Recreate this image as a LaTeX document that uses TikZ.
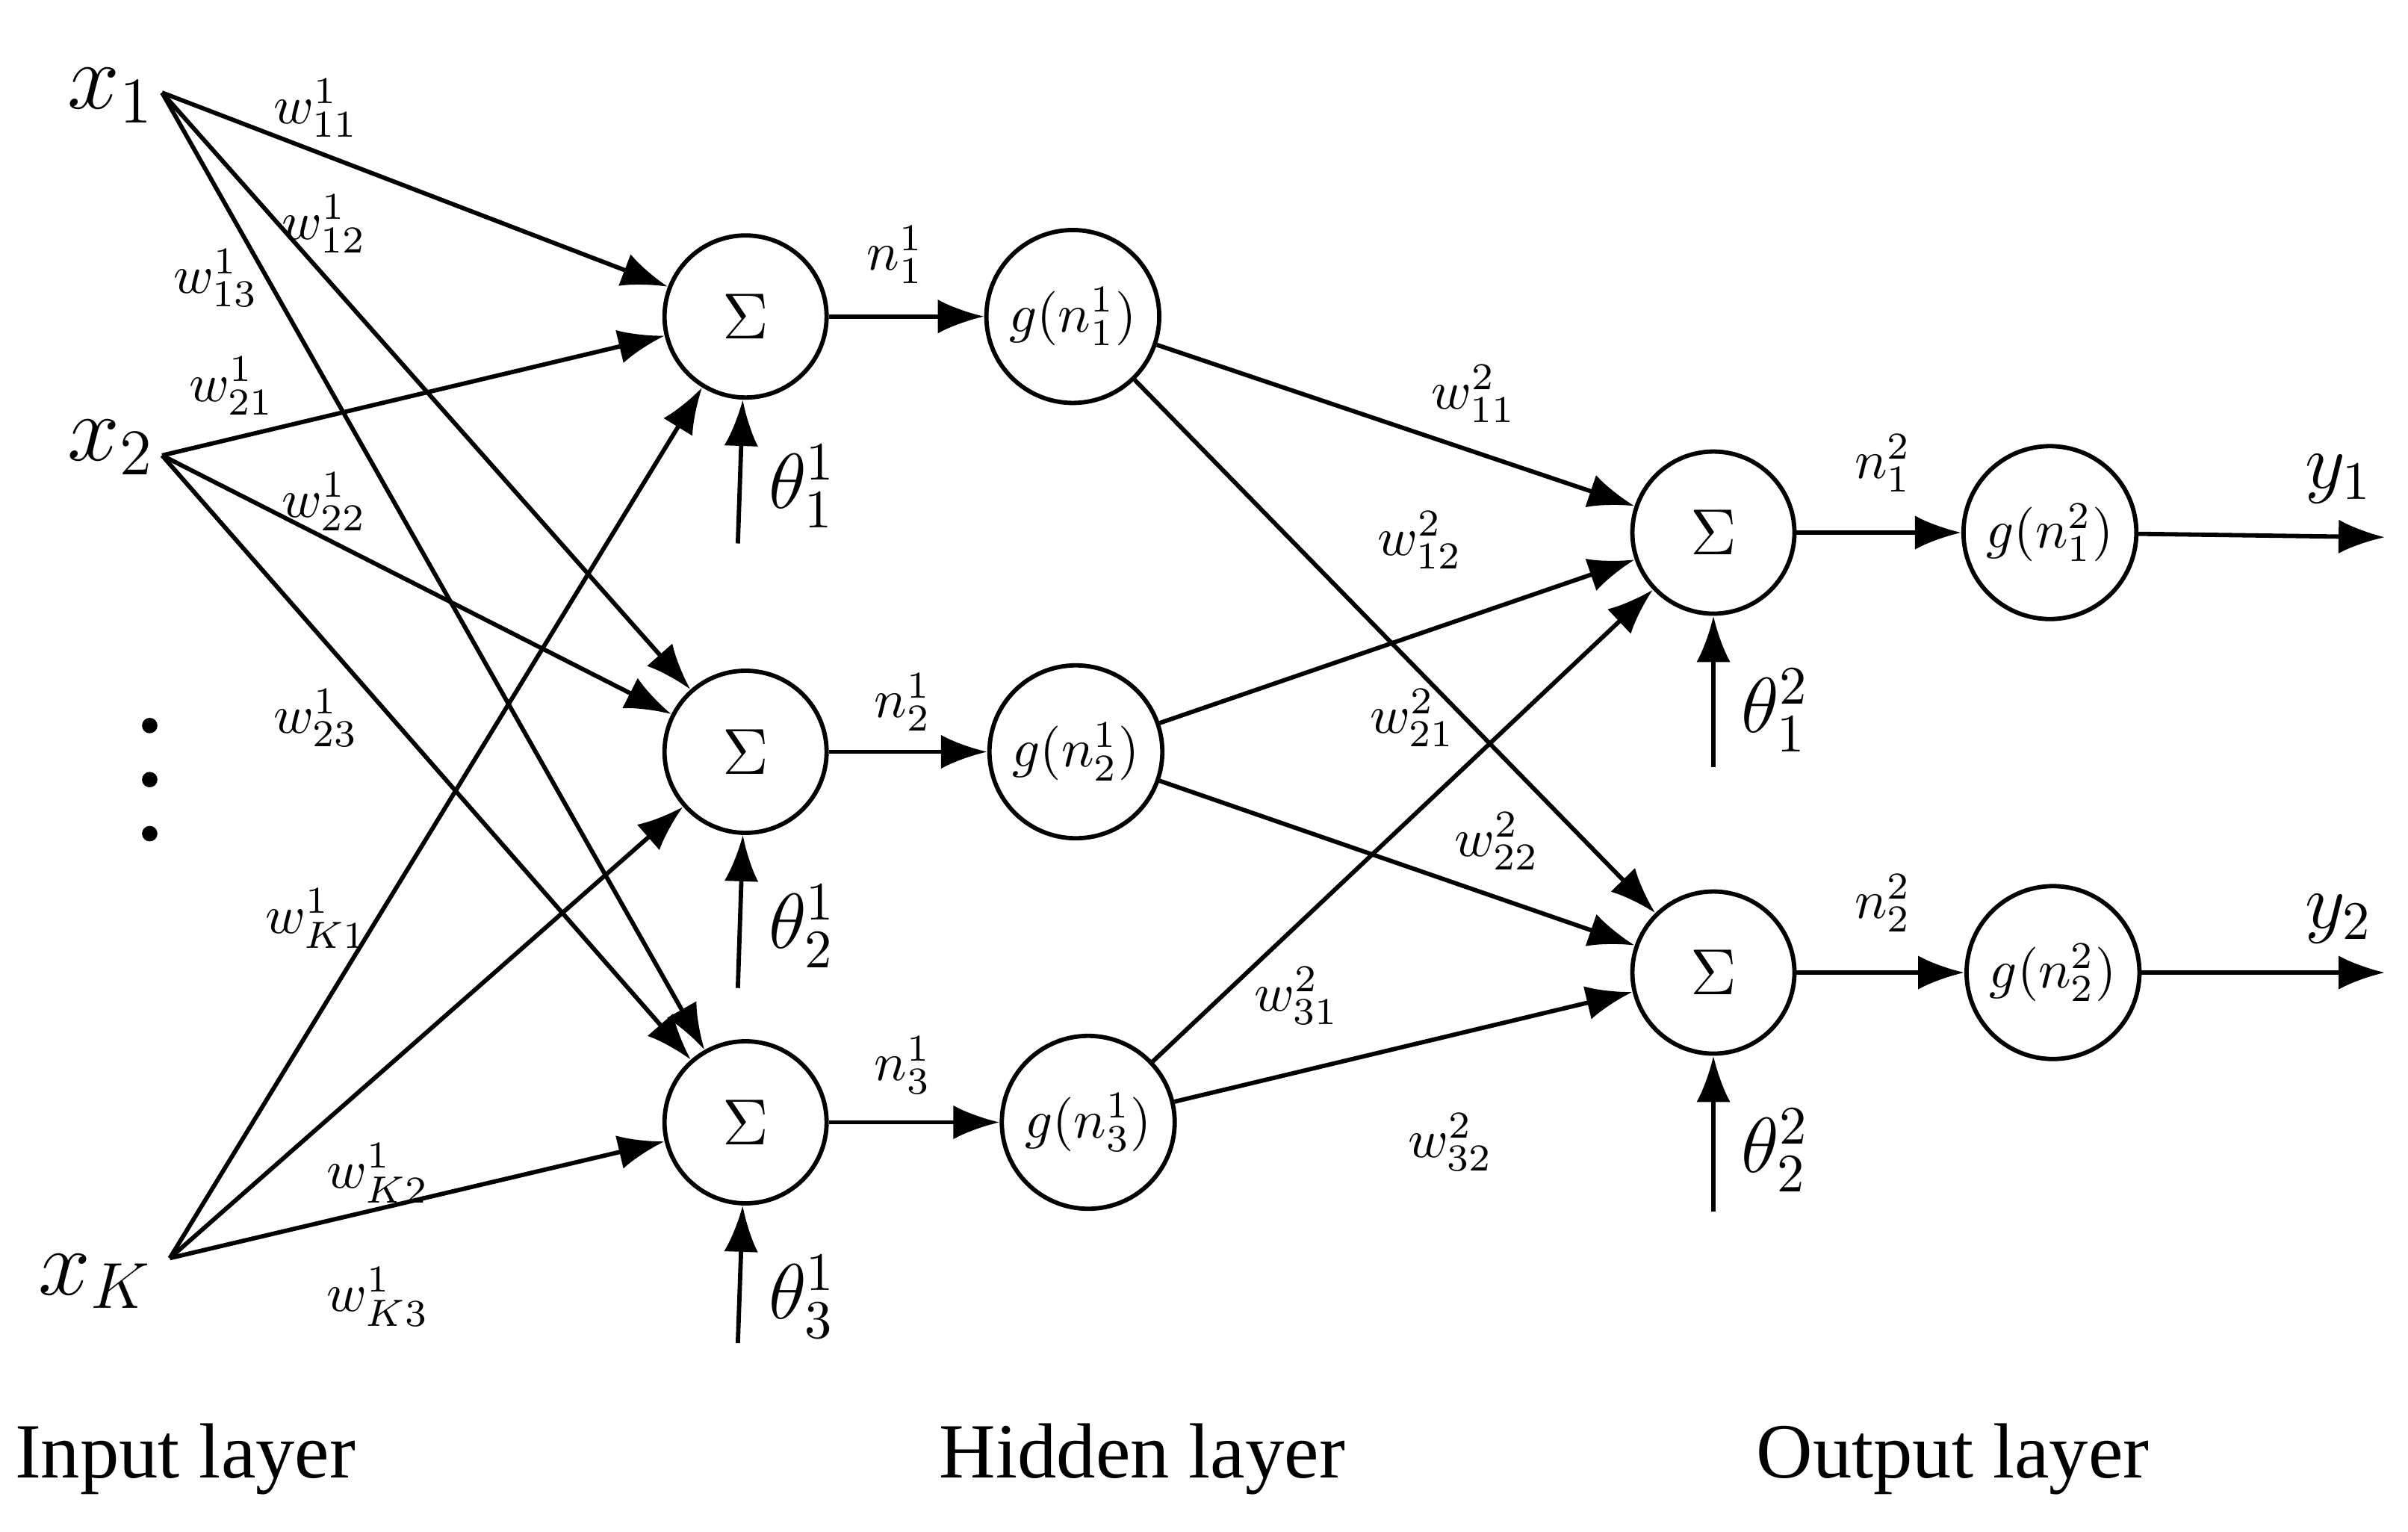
\documentclass[tikz,border=0pt]{standalone}
\usepackage{fontspec}
\setmainfont{Liberation Serif}
\usetikzlibrary{arrows.meta}
\begin{document}
\begin{tikzpicture}[
	neuron/.style={draw, circle, thick, minimum size=1.05cm, inner sep=0pt, font=\large},
	act/.style={draw, circle, thick, minimum size=1.12cm, inner sep=0pt},
	link/.style={-{Latex[length=3mm,width=2.2mm]}, thick},
	wl/.style={font=\normalsize}
]
	\useasboundingbox (0,0) rectangle (15.6,-9.92);
	% inputs
	\coordinate (I1) at (1.05,-0.6);
	\coordinate (I2) at (1.05,-2.95);
	\coordinate (IK) at (1.1,-8.15);
	\node (x1) at (0.72,-0.62) {\LARGE $x_1$};
	\node (x2) at (0.72,-2.9) {\LARGE $x_2$};
	\node (xK) at (0.62,-8.3) {\LARGE $x_K$};
	\foreach \i in {4.7,5.05,5.4} \fill (0.97,-\i) circle (0.05);
	% hidden layer
	\node[neuron] (s1) at (4.83,-2.05) {$\Sigma$};
	\node[neuron] (s2) at (4.83,-4.87) {$\Sigma$};
	\node[neuron] (s3) at (4.83,-7.27) {$\Sigma$};
	\node[act] (g1) at (6.95,-2.05) {$g(n_1^1)$};
	\node[act] (g2) at (6.97,-4.87) {$g(n_2^1)$};
	\node[act] (g3) at (7.05,-7.27) {$g(n_3^1)$};
	% output layer
	\node[neuron] (o1) at (11.1,-3.45) {$\Sigma$};
	\node[neuron] (o2) at (11.1,-6.3) {$\Sigma$};
	\node[act] (h1) at (13.28,-3.45) {$g(n_1^2)$};
	\node[act] (h2) at (13.3,-6.3) {$g(n_2^2)$};
	\coordinate (y1) at (15.45,-3.48);
	\coordinate (y2) at (15.45,-6.3);
	% biases
	\coordinate (b1) at (4.78,-3.52);
	\coordinate (b2) at (4.78,-6.4);
	\coordinate (b3) at (4.78,-8.7);
	\coordinate (c1) at (11.1,-4.97);
	\coordinate (c2) at (11.1,-7.85);
	% connections
	\foreach \a in {I1,I2,IK}
		\foreach \b in {s1,s2,s3}
			\draw[link] (\a) -- (\b);
	\foreach \a/\b in {s1/g1,s2/g2,s3/g3,o1/h1,o2/h2,h1/y1,h2/y2}
		\draw[link] (\a) -- (\b);
	\foreach \a in {g1,g2,g3}
		\foreach \b in {o1,o2}
			\draw[link] (\a) -- (\b);
	\draw[link] (b1) -- (s1);
	\draw[link] (b2) -- (s2);
	\draw[link] (b3) -- (s3);
	\draw[link] (c1) -- (o1);
	\draw[link] (c2) -- (o2);
	% labels
	\node[wl] (w11) at (2.05,-0.7) {$w_{11}^1$};
	\node[wl] (w12) at (2.1,-1.45) {$w_{12}^1$};
	\node[wl] (w13) at (1.4,-1.8) {$w_{13}^1$};
	\node[wl] (w21) at (1.5,-2.5) {$w_{21}^1$};
	\node[wl] (w22) at (2.1,-3.25) {$w_{22}^1$};
	\node[wl] (w23) at (2.05,-4.65) {$w_{23}^1$};
	\node[wl] (wK1) at (2.05,-5.95) {$w_{K1}^1$};
	\node[wl] (wK2) at (2.45,-7.6) {$w_{K2}^1$};
	\node[wl] (wK3) at (2.45,-8.4) {$w_{K3}^1$};
	\node[wl] (n11) at (5.8,-1.65) {$n_1^1$};
	\node[wl] (n21) at (5.85,-4.55) {$n_2^1$};
	\node[wl] (n31) at (5.85,-6.9) {$n_3^1$};
	\node[wl] (v11) at (9.55,-2.55) {$w_{11}^2$};
	\node[wl] (v12) at (9.2,-3.5) {$w_{12}^2$};
	\node[wl] (v21) at (9.15,-4.65) {$w_{21}^2$};
	\node[wl] (v22) at (9.7,-5.45) {$w_{22}^2$};
	\node[wl] (v31) at (8.4,-6.45) {$w_{31}^2$};
	\node[wl] (v32) at (9.4,-7.4) {$w_{32}^2$};
	\node[wl] (n12) at (12.2,-3.0) {$n_1^2$};
	\node[wl] (n22) at (12.2,-5.85) {$n_2^2$};
	\node[font=\Large] (t11) at (5.2,-3.15) {$\theta_1^1$};
	\node[font=\Large] (t21) at (5.2,-6.0) {$\theta_2^1$};
	\node[font=\Large] (t31) at (5.2,-8.4) {$\theta_3^1$};
	\node[font=\Large] (t12) at (11.5,-4.6) {$\theta_1^2$};
	\node[font=\Large] (t22) at (11.5,-7.45) {$\theta_2^2$};
	\node[font=\Large] (ly1) at (15.15,-3.1) {$y_1$};
	\node[font=\Large] (ly2) at (15.15,-5.95) {$y_2$};
	% layer names
	\node[font=\Large] (inl) at (1.2,-9.45) {Input layer};
	\node[font=\Large] (hil) at (7.4,-9.45) {Hidden layer};
	\node[font=\Large] (oul) at (12.65,-9.45) {Output layer};
\end{tikzpicture}
\end{document}
